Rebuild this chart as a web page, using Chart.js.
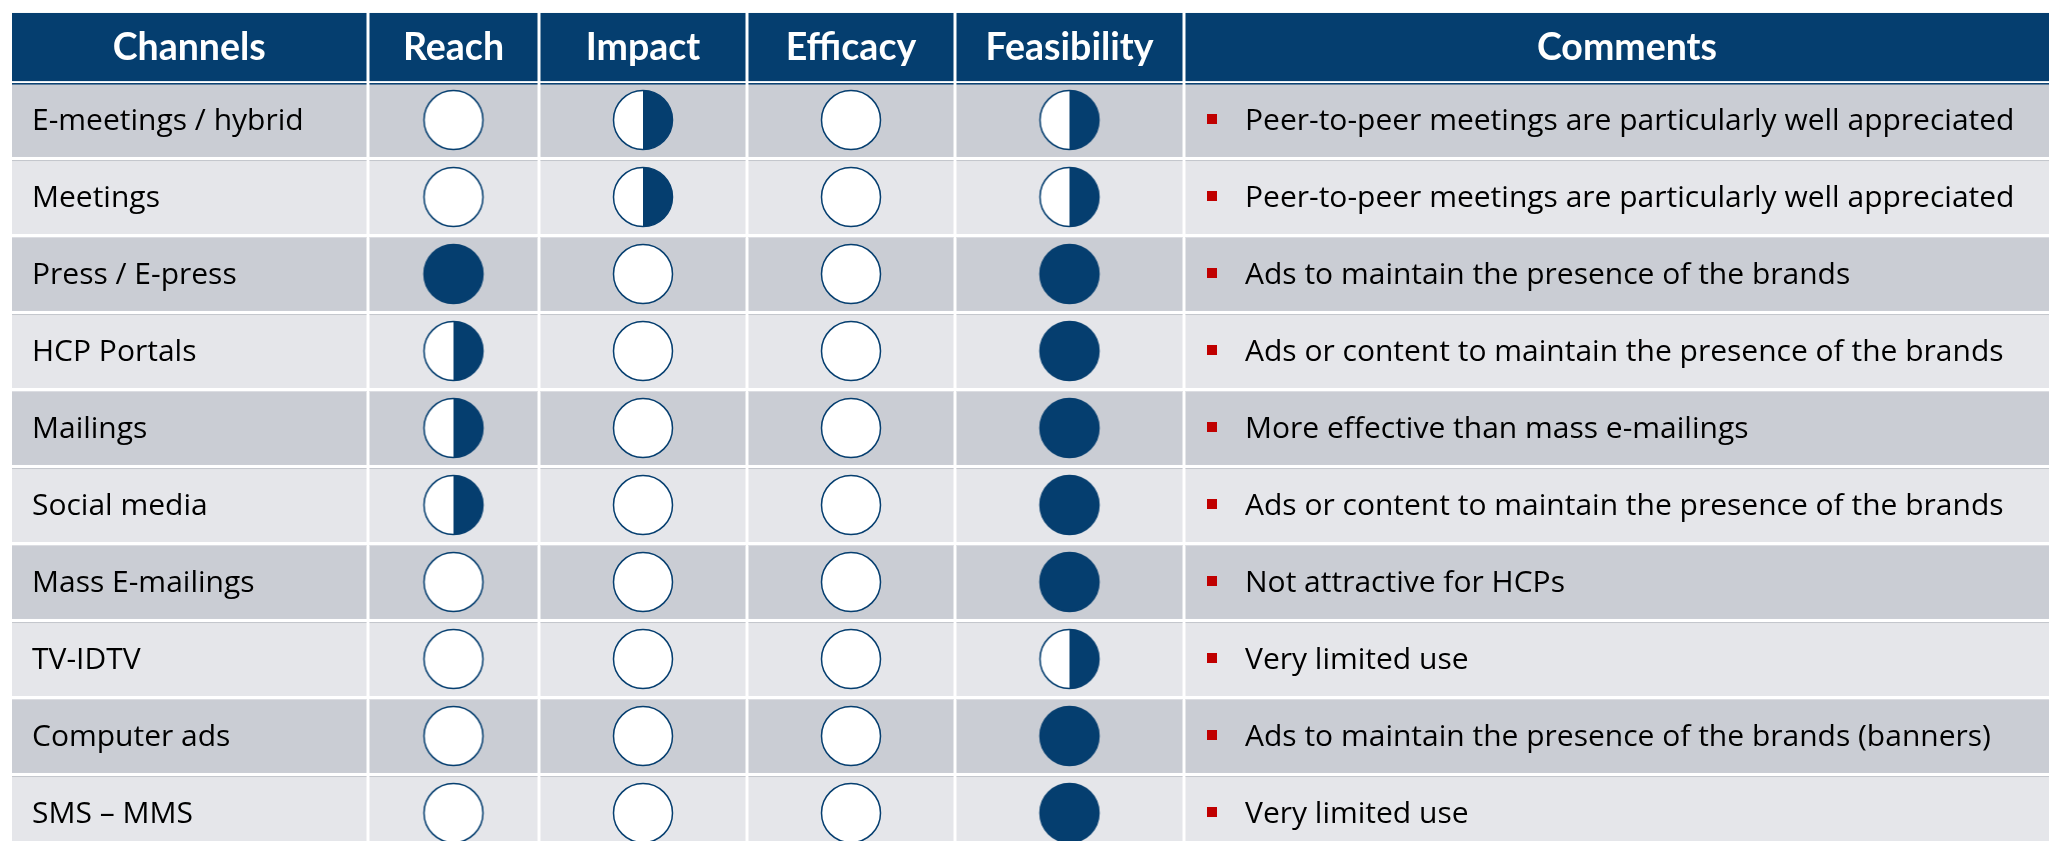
<!DOCTYPE html>
<html>
<head>
<meta charset="utf-8">
<script src="https://cdn.jsdelivr.net/npm/chart.js@4.4.1/dist/chart.umd.min.js"></script>
<style>
  html, body { margin: 0; padding: 0; background: #ffffff; }
  #wrap { width: 2049px; height: 841px; }
</style>
</head>
<body>
<div id="wrap"><canvas id="grid" width="2049" height="841"></canvas></div>
<script>
// table content
const channels = ["E-meetings / hybrid", "Meetings", "Press / E-press", "HCP Portals", "Mailings",
  "Social media", "Mass E-mailings", "TV-IDTV", "Computer ads", "SMS \u2013 MMS"];
const criteria = ["Reach", "Impact", "Efficacy", "Feasibility"];
// 0 = empty circle, 1 = half filled, 2 = full
const reach = [0, 0, 2, 1, 1, 1, 0, 0, 0, 0];
const impact = [1, 1, 0, 0, 0, 0, 0, 0, 0, 0];
const efficacy = [0, 0, 0, 0, 0, 0, 0, 0, 0, 0];
const feasibility = [1, 1, 2, 2, 2, 2, 2, 1, 2, 2];
const comments = [
  "Peer-to-peer meetings are particularly well appreciated",
  "Peer-to-peer meetings are particularly well appreciated",
  "Ads to maintain the presence of the brands",
  "Ads or content to maintain the presence of the brands",
  "More effective than mass e-mailings",
  "Ads or content to maintain the presence of the brands",
  "Not attractive for HCPs",
  "Very limited use",
  "Ads to maintain the presence of the brands (banners)",
  "Very limited use"
];

// layout (x in px units of the x scale, y in row units)
const colEdges = [12, 368, 539, 747, 955, 1184, 2070];
const NAVY = "#053e6f";
const DARK_ROW = "#cacdd4";
const LIGHT_ROW = "#e5e6ea";
const BODY_FONT = "30px 'Open Sans'";
const HEAD_FONT = "bold 37.5px Lato";

function colCenter(c) {
  return (colEdges[c] + colEdges[c + 1]) / 2;
}

// circle images for the three states
function makeDot(state) {
  const cv = document.createElement("canvas");
  cv.width = 64;
  cv.height = 64;
  const c = cv.getContext("2d");
  c.beginPath();
  c.arc(32, 32, 29.5, 0, Math.PI * 2);
  c.fillStyle = state === 2 ? NAVY : "#ffffff";
  c.fill();
  if (state === 1) {
    c.beginPath();
    c.arc(32, 32, 29.5, -Math.PI / 2, Math.PI / 2);
    c.closePath();
    c.fillStyle = NAVY;
    c.fill();
  }
  c.beginPath();
  c.arc(32, 32, 29.5, 0, Math.PI * 2);
  c.lineWidth = 1.5;
  c.strokeStyle = NAVY;
  c.stroke();
  return cv;
}
const dots = [makeDot(0), makeDot(1), makeDot(2)];

const scores = [reach, impact, efficacy, feasibility];
let datasets = [];
for (let k = 0; k < criteria.length; k++) {
  datasets.push({
    label: criteria[k],
    data: scores[k].map((v, i) => ({ x: colCenter(k + 1), y: i, s: v })),
    pointStyle: (ctx) => dots[ctx.raw ? ctx.raw.s : 0],
    pointRadius: 30,
    pointHoverRadius: 30
  });
}

// draws header, row bands and texts behind the circles
const tablePlugin = {
  id: "tablePlugin",
  beforeDatasetsDraw(chart) {
    const ctx = chart.ctx;
    const xs = chart.scales.x;
    const ys = chart.scales.y;
    const px = (v) => xs.getPixelForValue(v);
    const py = (v) => ys.getPixelForValue(v);
    ctx.save();

    // header
    const hTop = py(-1.39);
    const hBot = py(-0.505);
    const headers = ["Channels"].concat(criteria, ["Comments"]);
    ctx.font = HEAD_FONT;
    ctx.textAlign = "center";
    ctx.textBaseline = "middle";
    for (let c = 0; c < headers.length; c++) {
      const l = px(colEdges[c]) + (c > 0 ? 1.5 : 0);
      const r = px(colEdges[c + 1]) - 1.5;
      ctx.fillStyle = NAVY;
      ctx.fillRect(l, hTop, r - l, hBot - hTop);
      ctx.fillStyle = "#ffffff";
      ctx.fillText(headers[c], (l + r) / 2, (hTop + hBot) / 2 + 1);
    }

    // rows
    for (let i = 0; i < channels.length; i++) {
      const top = py(i - 0.48);
      const bot = py(i + 0.48);
      for (let c = 0; c < headers.length; c++) {
        const l = px(colEdges[c]) + (c > 0 ? 1.5 : 0);
        const r = px(colEdges[c + 1]) - 1.5;
        ctx.fillStyle = i % 2 === 0 ? DARK_ROW : LIGHT_ROW;
        ctx.fillRect(l, top, r - l, bot - top);
        ctx.fillStyle = i === 0 ? NAVY : (i % 2 === 0 ? "#dcdee3" : "#c3c6cd");
        ctx.fillRect(l, top, r - l, i === 0 ? 1.5 : 1);
      }
      const cy = py(i) + 1;
      ctx.fillStyle = "#000000";
      ctx.font = BODY_FONT;
      ctx.textAlign = "left";
      ctx.fillText(channels[i], px(colEdges[0]) + 20, cy);
      // comment bullet
      ctx.fillStyle = "#c00000";
      ctx.fillRect(px(colEdges[5]) + 23, py(i) - 6, 10, 10);
      ctx.fillStyle = "#000000";
      ctx.fillText(comments[i], px(colEdges[5]) + 61, cy);
    }
    ctx.restore();
  }
};

new Chart(document.getElementById("grid"), {
  type: "scatter",
  data: { datasets: datasets },
  options: {
    responsive: false,
    animation: false,
    events: [],
    layout: { padding: 0, autoPadding: false },
    elements: { point: { borderWidth: 0 } },
    scales: {
      x: { type: "linear", display: false, min: 0, max: 2049 },
      y: { type: "linear", display: false, reverse: true, min: -120 / 77, max: 721 / 77 }
    },
    plugins: {
      legend: { display: false },
      tooltip: { enabled: false }
    }
  },
  plugins: [tablePlugin]
});
</script>
</body>
</html>
